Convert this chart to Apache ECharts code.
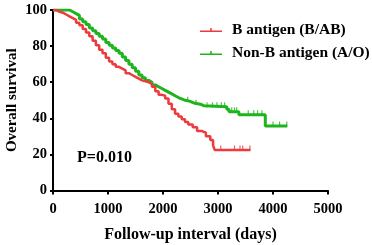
<!DOCTYPE html>
<html>
<head>
<meta charset="utf-8">
<script src="https://cdn.jsdelivr.net/npm/echarts@6/dist/echarts.min.js"></script>
<style>
  html, body { margin: 0; padding: 0; background: #fff; }
  #chart { width: 372px; height: 245px; }
</style>
</head>
<body>
<div id="chart"></div>
<script>
// Kaplan-Meier steps: [days, survival %]
const bAntigen = [
  [0, 100], [60, 99], [120, 98.5], [180, 97.5], [240, 96.5], [300, 95.5], [360, 94.5],
  [420, 93], [480, 91.5], [540, 89.5], [600, 87.5], [660, 85.5], [720, 83], [780, 80.5],
  [840, 78], [900, 76], [960, 73.5], [1020, 71.5], [1080, 70], [1140, 68.5], [1200, 67.5],
  [1260, 66.5], [1320, 65], [1380, 64], [1440, 63], [1500, 62], [1560, 61], [1620, 60.5],
  [1680, 60], [1740, 59], [1800, 57.5], [1860, 55], [1920, 53], [1980, 52.5], [2040, 51],
  [2100, 48], [2160, 45], [2220, 42.5], [2280, 41], [2340, 39.5], [2400, 38], [2460, 36.5],
  [2540, 35], [2620, 33], [2700, 32], [2780, 30], [2860, 28], [2910, 25], [2940, 22.5],
  [3590, 22.5]
];
const nonBAntigen = [
  [0, 100], [250, 100], [300, 99], [360, 98], [420, 97], [480, 95], [540, 93.5], [600, 92],
  [660, 90], [720, 88.5], [780, 87], [840, 85.5], [900, 84], [960, 82], [1020, 80.5],
  [1080, 79], [1140, 77.5], [1200, 76], [1260, 74], [1320, 72], [1380, 70], [1440, 68],
  [1500, 66], [1560, 64], [1620, 62.5], [1680, 61], [1740, 60], [1800, 58.5], [1860, 57.5],
  [1920, 56.5], [1980, 55.5], [2040, 54.5], [2100, 53.5], [2160, 52.5], [2220, 51.5],
  [2280, 50.8], [2340, 50], [2400, 49.5], [2480, 48.5], [2560, 47.8], [2680, 47], [2740, 46.4],
  [3160, 45], [3200, 43.6], [3380, 41.9], [3860, 35.8], [4260, 35.8]
];
// censored observations
const bCensored = [[3050, 22.5], [3300, 22.5], [3400, 22.5], [3450, 22.5], [3580, 22.5]];
const nonBCensored = [
  [2450, 49.5], [2600, 47.8], [2800, 46.4], [2900, 46.4], [2980, 46.4], [3060, 46.4],
  [3120, 46.4], [3250, 43.6], [3300, 43.6], [3340, 43.6], [3550, 41.9], [3650, 41.9],
  [3720, 41.9], [3800, 41.9], [4000, 35.8], [4120, 35.8], [4250, 35.8]
];
const seriesNames = ['B antigen (B/AB)', 'Non-B antigen (A/O)'];
const xTicks = [0, 1000, 2000, 3000, 4000, 5000];
const yTicks = [0, 20, 40, 60, 80, 100];

const RED = '#ec3a3d';
const GREEN = '#1db41d';
const FONT = '"Liberation Serif", "DejaVu Serif", serif';
const legendIcon = 'path://M0,5h22v1.5H0z M10.2,2.5h1.5v3H10.2z';

const chart = echarts.init(document.getElementById('chart'));

const tickText = { color: '#000', fontFamily: FONT, fontWeight: 'bold', fontSize: 14.5 };

const censorSeries = (data, color) => ({
  type: 'scatter',
  data,
  symbol: 'rect',
  symbolSize: [1.2, 5],
  symbolOffset: [0, -2],
  itemStyle: { color },
  silent: true,
  z: 3
});

chart.setOption({
  animation: false,
  backgroundColor: '#fff',
  grid: { left: 53, right: 44, top: 10, bottom: 54.5, containLabel: false, outerBoundsMode: 'none' },
  legend: {
    data: seriesNames.map(n => ({ name: n, icon: legendIcon })),
    orient: 'vertical',
    left: 200,
    top: 22,
    padding: 0,
    itemWidth: 22,
    itemHeight: 4,
    itemGap: 7,
    textStyle: { color: '#000', fontFamily: FONT, fontWeight: 'bold', fontSize: 15.5, lineHeight: 16, padding: [0, 0, 0, 5] }
  },
  xAxis: {
    type: 'value',
    min: 0,
    max: 5000,
    interval: 1000,
    name: 'Follow-up interval (days)',
    nameLocation: 'middle',
    nameGap: 36,
    nameMoveOverlap: false,
    nameTextStyle: { ...tickText, fontSize: 16 },
    axisLine: { lineStyle: { color: '#000', width: 2 } },
    axisTick: { length: 4, lineStyle: { width: 2 } },
    axisLabel: { ...tickText, margin: 11, customValues: xTicks, formatter: v => String(v) },
    splitLine: { show: false }
  },
  yAxis: {
    type: 'value',
    min: 0,
    max: 100,
    interval: 20,
    name: 'Overall survival',
    nameLocation: 'middle',
    nameRotate: 90,
    nameGap: 33,
    nameMoveOverlap: false,
    nameTextStyle: { ...tickText, fontSize: 15 },
    axisLine: { lineStyle: { color: '#000', width: 2 } },
    axisTick: { length: 3, lineStyle: { width: 2 } },
    axisLabel: { ...tickText, margin: 6, customValues: yTicks },
    splitLine: { show: false }
  },
  graphic: [{
    type: 'text',
    left: 77,
    top: 150,
    style: { text: 'P=0.010', fill: '#000', font: 'bold 16px ' + FONT }
  }],
  series: [
    {
      name: seriesNames[0],
      type: 'line',
      step: 'end',
      data: bAntigen,
      showSymbol: false,
      lineStyle: { color: RED, width: 2.5 },
      itemStyle: { color: RED },
      z: 4
    },
    {
      name: seriesNames[1],
      type: 'line',
      step: 'end',
      data: nonBAntigen,
      showSymbol: false,
      lineStyle: { color: GREEN, width: 3 },
      itemStyle: { color: GREEN },
      z: 3
    },
    censorSeries(bCensored, RED),
    censorSeries(nonBCensored, GREEN)
  ]
});
</script>
</body>
</html>
